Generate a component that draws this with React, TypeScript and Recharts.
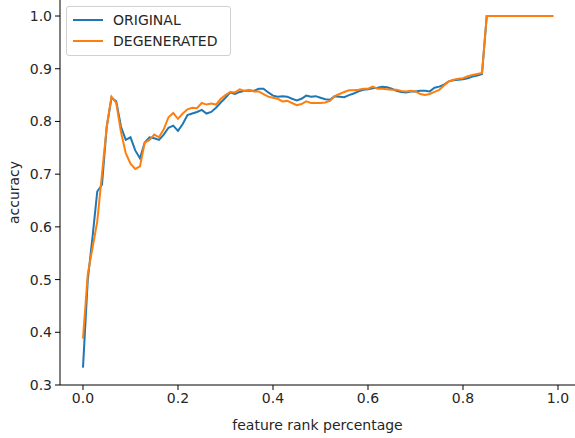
import React from "react";
import {
  LineChart,
  Line,
  XAxis,
  YAxis,
  Label,
} from "recharts";

// feature rank percentage, 0.00 .. 0.99
const rankPct = Array.from({ length: 100 }, (_, i) => Number((i / 100).toFixed(2)));

const originalAcc = [
  0.333, 0.499, 0.58, 0.667, 0.68, 0.79, 0.845, 0.838, 0.79, 0.765,
  0.77, 0.745, 0.73, 0.76, 0.77, 0.768, 0.765, 0.775, 0.788, 0.792,
  0.782, 0.795, 0.812, 0.815, 0.818, 0.822, 0.815, 0.818, 0.826, 0.836,
  0.845, 0.855, 0.852, 0.856, 0.858, 0.858, 0.858, 0.862, 0.862, 0.855,
  0.849, 0.847, 0.848, 0.847, 0.843, 0.84, 0.843, 0.849, 0.847, 0.848,
  0.845, 0.842, 0.841, 0.848, 0.847, 0.846, 0.85, 0.853, 0.857, 0.86,
  0.861, 0.863, 0.864, 0.866, 0.865, 0.862, 0.858, 0.856, 0.855, 0.857,
  0.857, 0.858, 0.858, 0.857, 0.864, 0.866, 0.87, 0.876, 0.878, 0.879,
  0.88, 0.882, 0.885, 0.887, 0.89, 1.0, 1.0, 1.0, 1.0, 1.0,
  1.0, 1.0, 1.0, 1.0, 1.0, 1.0, 1.0, 1.0, 1.0, 1.0,
];

const degeneratedAcc = [
  0.388, 0.51, 0.56, 0.61, 0.7, 0.79, 0.847, 0.835, 0.78, 0.74,
  0.72, 0.71, 0.715, 0.76, 0.765, 0.775, 0.77, 0.785, 0.808, 0.816,
  0.805, 0.815, 0.823, 0.826, 0.825, 0.835, 0.832, 0.834, 0.832, 0.843,
  0.85, 0.856, 0.855, 0.861, 0.858, 0.86, 0.857, 0.857, 0.852, 0.847,
  0.845, 0.843, 0.838, 0.839, 0.835, 0.831, 0.833, 0.838, 0.835, 0.835,
  0.835, 0.836, 0.839, 0.848, 0.852, 0.856, 0.859, 0.859, 0.86, 0.862,
  0.862, 0.866, 0.862, 0.862, 0.861, 0.86, 0.86, 0.858, 0.857, 0.858,
  0.857, 0.852, 0.85, 0.852, 0.856, 0.86, 0.868, 0.876, 0.879, 0.881,
  0.882, 0.886, 0.888, 0.89, 0.892, 1.0, 1.0, 1.0, 1.0, 1.0,
  1.0, 1.0, 1.0, 1.0, 1.0, 1.0, 1.0, 1.0, 1.0, 1.0,
];

const xTicks = [0, 0.2, 0.4, 0.6, 0.8, 1.0];
const yTicks = [0.3, 0.4, 0.5, 0.6, 0.7, 0.8, 0.9, 1.0];

const seriesNames = ["ORIGINAL", "DEGENERATED"];
const seriesColors = ["#1f77b4", "#ff7f0e"];

const data = rankPct.map((x, i) => ({
  x,
  original: originalAcc[i],
  degenerated: degeneratedAcc[i],
}));

const font = "'DejaVu Sans', sans-serif";
const textColor = "#262626";

// legend drawn as an overlay so it doesn't eat into the plot area
const LegendBox = () => (
  <div
    style={{
      position: "absolute",
      left: 66,
      top: 6,
      width: 165,
      boxSizing: "border-box",
      border: "1px solid #d0d0d0",
      borderRadius: 3,
      background: "rgba(255,255,255,0.8)",
      padding: "2px 6px 4px 6px",
      fontFamily: font,
      fontSize: 14,
      color: textColor,
    }}
  >
    {seriesNames.map((name, i) => (
      <div key={name} style={{ display: "flex", alignItems: "center", height: 21 }}>
        <span
          style={{
            display: "inline-block",
            width: 30,
            height: 2,
            background: seriesColors[i],
            marginRight: 10,
          }}
        />
        <span>{name}</span>
      </div>
    ))}
  </div>
);

export default function App() {
  return (
    <div style={{ position: "absolute", left: 0, top: 0, background: "#fff" }}>
      <LineChart
        width={575}
        height={438}
        data={data}
        margin={{ top: 0, right: 0, left: 0, bottom: 0 }}
      >
        <XAxis
          dataKey="x"
          type="number"
          domain={[-0.0484, 1.0358]}
          allowDataOverflow
          ticks={xTicks}
          tickFormatter={(v: number) => v.toFixed(1)}
          height={53}
          tickSize={5}
          tickMargin={3}
          stroke="#000"
          tick={{ fill: textColor, fontSize: 14, fontFamily: font }}
        >
          <Label
            value="feature rank percentage"
            position="insideBottom"
            offset={8}
            style={{ fill: textColor, fontSize: 14, fontFamily: font }}
          />
        </XAxis>
        <YAxis
          type="number"
          domain={[0.3, 1.0304]}
          allowDataOverflow
          ticks={yTicks}
          tickFormatter={(v: number) => v.toFixed(1)}
          width={60}
          tickSize={5}
          tickMargin={3}
          stroke="#000"
          tick={{ fill: textColor, fontSize: 14, fontFamily: font }}
        >
          <Label
            value="accuracy"
            angle={-90}
            position="insideLeft"
            offset={14}
            style={{ fill: textColor, fontSize: 14, fontFamily: font, textAnchor: "middle" }}
          />
        </YAxis>
        <Line
          type="linear"
          dataKey="original"
          name={seriesNames[0]}
          stroke={seriesColors[0]}
          strokeWidth={2}
          dot={false}
          isAnimationActive={false}
        />
        <Line
          type="linear"
          dataKey="degenerated"
          name={seriesNames[1]}
          stroke={seriesColors[1]}
          strokeWidth={2}
          dot={false}
          isAnimationActive={false}
        />
      </LineChart>
      <LegendBox />
    </div>
  );
}
